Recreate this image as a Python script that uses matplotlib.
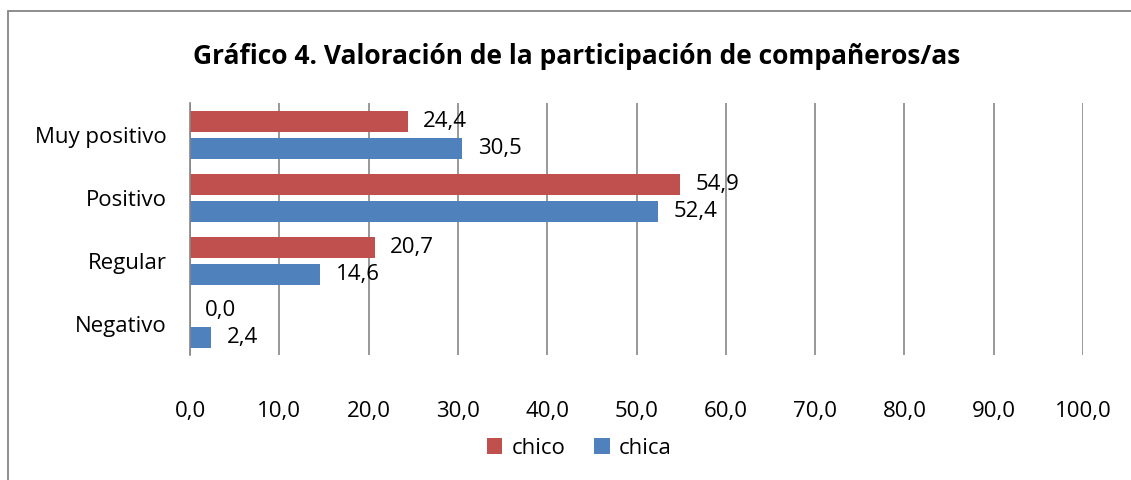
import numpy as np
import matplotlib
matplotlib.use("Agg")
import matplotlib.pyplot as plt
from matplotlib.patches import Rectangle

# datos
categorias = ["Muy positivo", "Positivo", "Regular", "Negativo"]
chico = [24.4, 54.9, 20.7, 0.0]
chica = [30.5, 52.4, 14.6, 2.4]
ticks_x = [0, 10, 20, 30, 40, 50, 60, 70, 80, 90, 100]

plt.rcParams['font.family'] = ['Open Sans', 'DejaVu Sans']

fig = plt.figure(figsize=(11.31, 4.8), dpi=100)
ax = fig.add_axes([0.168, 0.2604, 0.7896, 0.525])

# marco del gráfico
fig.patches.append(Rectangle((8 / 1131, -0.02), 1.2, (480 - 11) / 480 + 0.02,
                             transform=fig.transFigure, fill=False,
                             edgecolor='#868686', linewidth=1.3))

y = np.arange(len(categorias))[::-1]
h = 0.333
rojo = '#C0504D'
azul = '#4F81BD'
b1 = ax.barh(y + 0.2, chico, height=h, color=rojo, label='chico')
b2 = ax.barh(y - 0.215, chica, height=h, color=azul, label='chica')

for barras, vals in ((b1, chico), (b2, chica)):
    for b, v in zip(barras, vals):
        ax.annotate(f"{v:.1f}".replace('.', ','),
                    (b.get_width(), b.get_y() + b.get_height() / 2),
                    xytext=(11, 0), textcoords='offset points',
                    ha='left', va='center', fontsize=16)

ax.set_xlim(0, 100)
ax.set_ylim(-0.5, 3.5)
ax.set_xticks(ticks_x)
ax.set_xticklabels([f"{t:.1f}".replace('.', ',') for t in ticks_x], fontsize=16)
ax.set_yticks(y)
ax.set_yticklabels(categorias, fontsize=16)
ax.tick_params(axis='x', length=0, pad=33)
ax.tick_params(axis='y', length=0, pad=17)
ax.grid(axis='x', color='#868686', linewidth=1.2)
ax.set_axisbelow(True)
for s in ['top', 'right', 'bottom']:
    ax.spines[s].set_visible(False)
ax.spines['left'].set_color('#868686')
ax.spines['left'].set_linewidth(1.2)

fig.text(0.51, 0.882, "Gráfico 4. Valoración de la participación de compañeros/as",
         ha='center', va='center', fontsize=19, fontweight='bold')

fig.legend(handles=[b1, b2], loc='center', bbox_to_anchor=(0.512, 0.066),
           ncol=2, frameon=False, fontsize=16, handlelength=0.7,
           handleheight=0.7, handletextpad=0.4, columnspacing=1.3)

fig.savefig("out.png", dpi=100)
